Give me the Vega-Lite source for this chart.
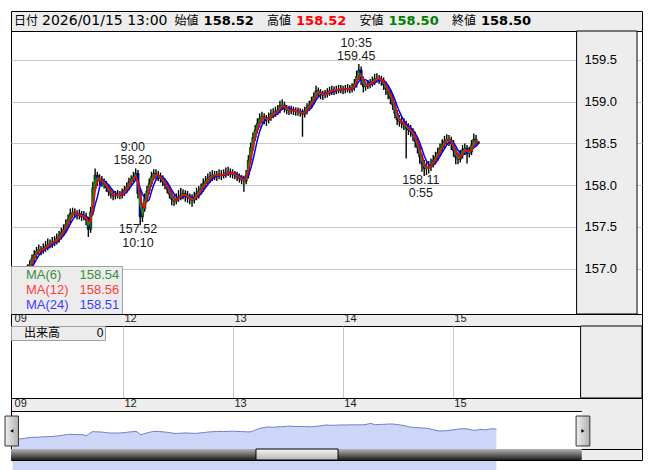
{
"$schema": "https://vega.github.io/schema/vega-lite/v6.json",
"background": "white",
"padding": {"left": 4, "top": 10, "right": 12, "bottom": 11},
"bounds": "flush",
"spacing": 0,
"config": {"view": {"stroke": "black", "strokeWidth": 1}, "font": "Liberation Sans", "axis": {"title": null}},
"resolve": {"scale": {"x": "independent", "y": "independent", "color": "independent"}, "axis": {"x": "independent", "y": "independent"}, "legend": {"color": "independent"}},
"datasets": {
"header": [
{"k": "日付", "v": "2026/01/15 13:00"},
{"k": "始値", "v": "158.52"},
{"k": "高値", "v": "158.52"},
{"k": "安値", "v": "158.50"},
{"k": "終値", "v": "158.50"}
],
"days": [{"t": 0, "d": "09"}, {"t": 24, "d": "12"}, {"t": 48, "d": "13"}, {"t": 72, "d": "14"}, {"t": 96, "d": "15"}],
"notes": [
{"t": 26, "p": 158.20, "time": "9:00", "val": "158.20", "side": "hi"},
{"t": 27.17, "p": 157.52, "time": "10:10", "val": "157.52", "side": "lo"},
{"t": 75.58, "p": 159.45, "time": "10:35", "val": "159.45", "side": "hi"},
{"t": 89.92, "p": 158.11, "time": "0:55", "val": "158.11", "side": "lo"}
],
"bars": [
{"t":0,"o":156.84,"h":156.90,"l":156.80,"c":156.86},
{"t":0.5,"o":156.86,"h":156.94,"l":156.82,"c":156.90},
{"t":1,"o":156.90,"h":156.97,"l":156.86,"c":156.93},
{"t":1.5,"o":156.93,"h":157.01,"l":156.89,"c":156.97},
{"t":2,"o":156.97,"h":157.05,"l":156.93,"c":157.00},
{"t":2.5,"o":157.00,"h":157.10,"l":156.96,"c":157.05},
{"t":3,"o":157.05,"h":157.17,"l":157.01,"c":157.12},
{"t":3.5,"o":157.12,"h":157.22,"l":157.07,"c":157.17},
{"t":4,"o":157.17,"h":157.26,"l":157.13,"c":157.21},
{"t":4.5,"o":157.21,"h":157.29,"l":157.17,"c":157.23},
{"t":5,"o":157.23,"h":157.27,"l":157.16,"c":157.22},
{"t":5.5,"o":157.22,"h":157.30,"l":157.18,"c":157.24},
{"t":6,"o":157.24,"h":157.33,"l":157.20,"c":157.27},
{"t":6.5,"o":157.27,"h":157.36,"l":157.22,"c":157.29},
{"t":7,"o":157.29,"h":157.35,"l":157.24,"c":157.30},
{"t":7.5,"o":157.30,"h":157.38,"l":157.25,"c":157.32},
{"t":8,"o":157.32,"h":157.39,"l":157.27,"c":157.33},
{"t":8.5,"o":157.33,"h":157.42,"l":157.29,"c":157.36},
{"t":9,"o":157.36,"h":157.45,"l":157.31,"c":157.39},
{"t":9.5,"o":157.39,"h":157.49,"l":157.35,"c":157.43},
{"t":10,"o":157.43,"h":157.53,"l":157.39,"c":157.47},
{"t":10.5,"o":157.47,"h":157.59,"l":157.43,"c":157.53},
{"t":11,"o":157.53,"h":157.65,"l":157.49,"c":157.59},
{"t":11.5,"o":157.59,"h":157.72,"l":157.55,"c":157.66},
{"t":12,"o":157.66,"h":157.73,"l":157.61,"c":157.67},
{"t":12.5,"o":157.67,"h":157.72,"l":157.61,"c":157.66},
{"t":13,"o":157.66,"h":157.70,"l":157.59,"c":157.64},
{"t":13.5,"o":157.64,"h":157.71,"l":157.59,"c":157.65},
{"t":14,"o":157.65,"h":157.69,"l":157.57,"c":157.62},
{"t":14.5,"o":157.62,"h":157.69,"l":157.58,"c":157.63},
{"t":15,"o":157.63,"h":157.67,"l":157.52,"c":157.58},
{"t":15.5,"o":157.58,"h":157.62,"l":157.38,"c":157.47},
{"t":16,"o":157.47,"h":157.74,"l":157.43,"c":157.68},
{"t":16.5,"o":157.68,"h":158.04,"l":157.64,"c":157.97},
{"t":17,"o":157.97,"h":158.20,"l":157.93,"c":158.12},
{"t":17.5,"o":158.12,"h":158.16,"l":157.99,"c":158.05},
{"t":18,"o":158.05,"h":158.13,"l":158.00,"c":158.07},
{"t":18.5,"o":158.07,"h":158.11,"l":157.98,"c":158.04},
{"t":19,"o":158.04,"h":158.08,"l":157.96,"c":158.01},
{"t":19.5,"o":158.01,"h":158.05,"l":157.92,"c":157.97},
{"t":20,"o":157.97,"h":158.01,"l":157.87,"c":157.92},
{"t":20.5,"o":157.92,"h":157.96,"l":157.84,"c":157.89},
{"t":21,"o":157.89,"h":157.93,"l":157.82,"c":157.87},
{"t":21.5,"o":157.87,"h":157.93,"l":157.83,"c":157.88},
{"t":22,"o":157.88,"h":157.94,"l":157.84,"c":157.89},
{"t":22.5,"o":157.89,"h":157.93,"l":157.83,"c":157.88},
{"t":23,"o":157.88,"h":157.96,"l":157.84,"c":157.91},
{"t":23.5,"o":157.91,"h":157.99,"l":157.87,"c":157.94},
{"t":24,"o":157.94,"h":158.03,"l":157.90,"c":157.98},
{"t":24.5,"o":157.98,"h":158.09,"l":157.94,"c":158.04},
{"t":25,"o":158.04,"h":158.12,"l":158.00,"c":158.07},
{"t":25.5,"o":158.07,"h":158.16,"l":158.03,"c":158.10},
{"t":26,"o":158.10,"h":158.20,"l":158.06,"c":158.14},
{"t":26.5,"o":158.14,"h":158.18,"l":157.84,"c":157.90},
{"t":27,"o":157.90,"h":157.95,"l":157.52,"c":157.62},
{"t":27.5,"o":157.62,"h":157.78,"l":157.56,"c":157.72},
{"t":28,"o":157.72,"h":157.90,"l":157.68,"c":157.84},
{"t":28.5,"o":157.84,"h":157.99,"l":157.80,"c":157.93},
{"t":29,"o":157.93,"h":158.08,"l":157.89,"c":158.02},
{"t":29.5,"o":158.02,"h":158.16,"l":157.98,"c":158.10},
{"t":30,"o":158.10,"h":158.19,"l":158.06,"c":158.14},
{"t":30.5,"o":158.14,"h":158.19,"l":158.07,"c":158.12},
{"t":31,"o":158.12,"h":158.17,"l":158.05,"c":158.10},
{"t":31.5,"o":158.10,"h":158.15,"l":158.03,"c":158.08},
{"t":32,"o":158.08,"h":158.12,"l":157.99,"c":158.04},
{"t":32.5,"o":158.04,"h":158.08,"l":157.95,"c":158.00},
{"t":33,"o":158.00,"h":158.04,"l":157.90,"c":157.95},
{"t":33.5,"o":157.95,"h":157.99,"l":157.84,"c":157.89},
{"t":34,"o":157.89,"h":157.93,"l":157.76,"c":157.83},
{"t":34.5,"o":157.83,"h":157.88,"l":157.75,"c":157.81},
{"t":35,"o":157.81,"h":157.90,"l":157.77,"c":157.84},
{"t":35.5,"o":157.84,"h":157.94,"l":157.80,"c":157.86},
{"t":36,"o":157.86,"h":157.97,"l":157.82,"c":157.88},
{"t":36.5,"o":157.88,"h":157.95,"l":157.83,"c":157.90},
{"t":37,"o":157.90,"h":157.94,"l":157.80,"c":157.87},
{"t":37.5,"o":157.87,"h":157.93,"l":157.79,"c":157.85},
{"t":38,"o":157.85,"h":157.90,"l":157.77,"c":157.84},
{"t":38.5,"o":157.84,"h":157.89,"l":157.74,"c":157.82},
{"t":39,"o":157.82,"h":157.92,"l":157.78,"c":157.86},
{"t":39.5,"o":157.86,"h":157.97,"l":157.82,"c":157.90},
{"t":40,"o":157.90,"h":157.99,"l":157.84,"c":157.93},
{"t":40.5,"o":157.93,"h":158.02,"l":157.89,"c":157.96},
{"t":41,"o":157.96,"h":158.08,"l":157.92,"c":158.02},
{"t":41.5,"o":158.02,"h":158.11,"l":157.97,"c":158.05},
{"t":42,"o":158.05,"h":158.14,"l":158.01,"c":158.08},
{"t":42.5,"o":158.08,"h":158.16,"l":158.03,"c":158.10},
{"t":43,"o":158.10,"h":158.18,"l":158.05,"c":158.12},
{"t":43.5,"o":158.12,"h":158.17,"l":158.06,"c":158.12},
{"t":44,"o":158.12,"h":158.17,"l":158.05,"c":158.11},
{"t":44.5,"o":158.11,"h":158.19,"l":158.07,"c":158.13},
{"t":45,"o":158.13,"h":158.18,"l":158.06,"c":158.12},
{"t":45.5,"o":158.12,"h":158.19,"l":158.08,"c":158.13},
{"t":46,"o":158.13,"h":158.21,"l":158.09,"c":158.15},
{"t":46.5,"o":158.15,"h":158.22,"l":158.11,"c":158.16},
{"t":47,"o":158.16,"h":158.20,"l":158.09,"c":158.14},
{"t":47.5,"o":158.14,"h":158.19,"l":158.08,"c":158.13},
{"t":48,"o":158.13,"h":158.17,"l":158.07,"c":158.12},
{"t":48.5,"o":158.12,"h":158.16,"l":158.05,"c":158.10},
{"t":49,"o":158.10,"h":158.14,"l":158.03,"c":158.08},
{"t":49.5,"o":158.08,"h":158.12,"l":158.01,"c":158.06},
{"t":50,"o":158.06,"h":158.11,"l":157.92,"c":158.05},
{"t":50.5,"o":158.05,"h":158.18,"l":158.01,"c":158.12},
{"t":51,"o":158.12,"h":158.36,"l":158.08,"c":158.30},
{"t":51.5,"o":158.30,"h":158.51,"l":158.26,"c":158.45},
{"t":52,"o":158.45,"h":158.63,"l":158.41,"c":158.57},
{"t":52.5,"o":158.57,"h":158.72,"l":158.53,"c":158.66},
{"t":53,"o":158.66,"h":158.80,"l":158.62,"c":158.74},
{"t":53.5,"o":158.74,"h":158.86,"l":158.69,"c":158.80},
{"t":54,"o":158.80,"h":158.88,"l":158.74,"c":158.82},
{"t":54.5,"o":158.82,"h":158.86,"l":158.73,"c":158.80},
{"t":55,"o":158.80,"h":158.84,"l":158.71,"c":158.78},
{"t":55.5,"o":158.78,"h":158.87,"l":158.74,"c":158.81},
{"t":56,"o":158.81,"h":158.91,"l":158.77,"c":158.85},
{"t":56.5,"o":158.85,"h":158.92,"l":158.80,"c":158.86},
{"t":57,"o":158.86,"h":158.94,"l":158.82,"c":158.88},
{"t":57.5,"o":158.88,"h":158.96,"l":158.84,"c":158.90},
{"t":58,"o":158.90,"h":159.01,"l":158.86,"c":158.95},
{"t":58.5,"o":158.95,"h":159.03,"l":158.90,"c":158.96},
{"t":59,"o":158.96,"h":159.00,"l":158.87,"c":158.92},
{"t":59.5,"o":158.92,"h":158.96,"l":158.85,"c":158.90},
{"t":60,"o":158.90,"h":158.95,"l":158.84,"c":158.89},
{"t":60.5,"o":158.89,"h":158.95,"l":158.85,"c":158.90},
{"t":61,"o":158.90,"h":158.94,"l":158.84,"c":158.89},
{"t":61.5,"o":158.89,"h":158.93,"l":158.83,"c":158.88},
{"t":62,"o":158.88,"h":158.93,"l":158.83,"c":158.88},
{"t":62.5,"o":158.88,"h":158.92,"l":158.82,"c":158.87},
{"t":63,"o":158.87,"h":158.91,"l":158.58,"c":158.85},
{"t":63.5,"o":158.85,"h":158.94,"l":158.81,"c":158.89},
{"t":64,"o":158.89,"h":158.98,"l":158.85,"c":158.93},
{"t":64.5,"o":158.93,"h":159.01,"l":158.89,"c":158.96},
{"t":65,"o":158.96,"h":159.06,"l":158.92,"c":159.01},
{"t":65.5,"o":159.01,"h":159.11,"l":158.97,"c":159.06},
{"t":66,"o":159.06,"h":159.19,"l":159.02,"c":159.13},
{"t":66.5,"o":159.13,"h":159.17,"l":159.06,"c":159.11},
{"t":67,"o":159.11,"h":159.15,"l":159.03,"c":159.09},
{"t":67.5,"o":159.09,"h":159.13,"l":159.02,"c":159.08},
{"t":68,"o":159.08,"h":159.14,"l":159.04,"c":159.09},
{"t":68.5,"o":159.09,"h":159.16,"l":159.05,"c":159.11},
{"t":69,"o":159.11,"h":159.18,"l":159.07,"c":159.13},
{"t":69.5,"o":159.13,"h":159.19,"l":159.08,"c":159.14},
{"t":70,"o":159.14,"h":159.18,"l":159.08,"c":159.13},
{"t":70.5,"o":159.13,"h":159.19,"l":159.09,"c":159.14},
{"t":71,"o":159.14,"h":159.20,"l":159.10,"c":159.15},
{"t":71.5,"o":159.15,"h":159.20,"l":159.10,"c":159.15},
{"t":72,"o":159.15,"h":159.19,"l":159.09,"c":159.14},
{"t":72.5,"o":159.14,"h":159.20,"l":159.10,"c":159.15},
{"t":73,"o":159.15,"h":159.21,"l":159.11,"c":159.16},
{"t":73.5,"o":159.16,"h":159.20,"l":159.10,"c":159.15},
{"t":74,"o":159.15,"h":159.22,"l":159.11,"c":159.17},
{"t":74.5,"o":159.17,"h":159.27,"l":159.13,"c":159.21},
{"t":75,"o":159.21,"h":159.37,"l":159.17,"c":159.30},
{"t":75.5,"o":159.30,"h":159.45,"l":159.26,"c":159.38},
{"t":76,"o":159.38,"h":159.42,"l":159.20,"c":159.26},
{"t":76.5,"o":159.26,"h":159.30,"l":159.11,"c":159.18},
{"t":77,"o":159.18,"h":159.24,"l":159.13,"c":159.19},
{"t":77.5,"o":159.19,"h":159.26,"l":159.15,"c":159.21},
{"t":78,"o":159.21,"h":159.27,"l":159.16,"c":159.22},
{"t":78.5,"o":159.22,"h":159.30,"l":159.18,"c":159.24},
{"t":79,"o":159.24,"h":159.33,"l":159.20,"c":159.27},
{"t":79.5,"o":159.27,"h":159.34,"l":159.23,"c":159.28},
{"t":80,"o":159.28,"h":159.32,"l":159.21,"c":159.27},
{"t":80.5,"o":159.27,"h":159.31,"l":159.19,"c":159.25},
{"t":81,"o":159.25,"h":159.29,"l":159.14,"c":159.20},
{"t":81.5,"o":159.20,"h":159.24,"l":159.08,"c":159.15},
{"t":82,"o":159.15,"h":159.19,"l":159.03,"c":159.10},
{"t":82.5,"o":159.10,"h":159.14,"l":158.97,"c":159.04},
{"t":83,"o":159.04,"h":159.08,"l":158.90,"c":158.96},
{"t":83.5,"o":158.96,"h":159.00,"l":158.80,"c":158.86},
{"t":84,"o":158.86,"h":158.90,"l":158.72,"c":158.78},
{"t":84.5,"o":158.78,"h":158.84,"l":158.70,"c":158.76},
{"t":85,"o":158.76,"h":158.82,"l":158.68,"c":158.74},
{"t":85.5,"o":158.74,"h":158.80,"l":158.66,"c":158.72},
{"t":86,"o":158.72,"h":158.77,"l":158.32,"c":158.68},
{"t":86.5,"o":158.68,"h":158.74,"l":158.60,"c":158.66},
{"t":87,"o":158.66,"h":158.72,"l":158.58,"c":158.64},
{"t":87.5,"o":158.64,"h":158.68,"l":158.53,"c":158.60},
{"t":88,"o":158.60,"h":158.64,"l":158.45,"c":158.52},
{"t":88.5,"o":158.52,"h":158.56,"l":158.38,"c":158.45},
{"t":89,"o":158.45,"h":158.49,"l":158.26,"c":158.34},
{"t":89.5,"o":158.34,"h":158.38,"l":158.16,"c":158.25},
{"t":90,"o":158.25,"h":158.30,"l":158.11,"c":158.20},
{"t":90.5,"o":158.20,"h":158.28,"l":158.12,"c":158.21},
{"t":91,"o":158.21,"h":158.29,"l":158.14,"c":158.22},
{"t":91.5,"o":158.22,"h":158.32,"l":158.17,"c":158.25},
{"t":92,"o":158.25,"h":158.36,"l":158.21,"c":158.30},
{"t":92.5,"o":158.30,"h":158.40,"l":158.25,"c":158.34},
{"t":93,"o":158.34,"h":158.45,"l":158.29,"c":158.39},
{"t":93.5,"o":158.39,"h":158.50,"l":158.35,"c":158.44},
{"t":94,"o":158.44,"h":158.55,"l":158.40,"c":158.49},
{"t":94.5,"o":158.49,"h":158.59,"l":158.44,"c":158.53},
{"t":95,"o":158.53,"h":158.61,"l":158.48,"c":158.55},
{"t":95.5,"o":158.55,"h":158.60,"l":158.47,"c":158.54},
{"t":96,"o":158.54,"h":158.58,"l":158.42,"c":158.50},
{"t":96.5,"o":158.50,"h":158.54,"l":158.34,"c":158.41},
{"t":97,"o":158.41,"h":158.45,"l":158.25,"c":158.33},
{"t":97.5,"o":158.33,"h":158.39,"l":158.25,"c":158.31},
{"t":98,"o":158.31,"h":158.42,"l":158.27,"c":158.36},
{"t":98.5,"o":158.36,"h":158.48,"l":158.32,"c":158.42},
{"t":99,"o":158.42,"h":158.50,"l":158.36,"c":158.44},
{"t":99.5,"o":158.44,"h":158.48,"l":158.26,"c":158.38},
{"t":100,"o":158.38,"h":158.46,"l":158.33,"c":158.40},
{"t":100.5,"o":158.40,"h":158.54,"l":158.36,"c":158.48},
{"t":101,"o":158.48,"h":158.62,"l":158.44,"c":158.55},
{"t":101.5,"o":158.55,"h":158.60,"l":158.47,"c":158.52},
{"t":102,"o":158.52,"h":158.53,"l":158.49,"c":158.50}
]
},
"vconcat": [
{
"width": 631, "height": 20,
"view": {"fill": "#ededed", "stroke": "black"},
"data": {"name": "header"},
"layer": [
{"transform": [{"filter": "datum.k == '日付'"}],
 "mark": {"type": "text", "align": "left", "baseline": "middle", "font": "Noto Sans CJK JP", "fontSize": 12, "x": 3, "color": "black"},
 "encoding": {"text": {"field": "k"}}},
{"transform": [{"filter": "datum.k == '日付'"}],
 "mark": {"type": "text", "align": "left", "baseline": "middle", "font": "DejaVu Sans", "fontSize": 14, "x": 3, "dx": 28, "color": "black"},
 "encoding": {"text": {"field": "v"}}},
{"transform": [{"filter": "datum.k != '日付'"}],
 "mark": {"type": "text", "align": "left", "baseline": "middle", "font": "Noto Sans CJK JP", "fontSize": 12, "color": "black"},
 "encoding": {"x": {"field": "k", "type": "nominal", "sort": null, "scale": {"type": "point", "padding": 0, "range": [163.6, 441]}, "axis": null}, "text": {"field": "k"}}},
{"transform": [{"filter": "datum.k != '日付'"}],
 "mark": {"type": "text", "align": "left", "baseline": "middle", "font": "DejaVu Sans", "fontWeight": "bold", "fontSize": 13, "dx": 29},
 "encoding": {"x": {"field": "k", "type": "nominal", "sort": null, "axis": null}, "text": {"field": "v"},
  "color": {"condition": [{"test": "datum.k == '高値'", "value": "#ff0000"}, {"test": "datum.k == '安値'", "value": "#008000"}], "value": "#000000"}}}
]
},
{
"width": 631, "height": 283,
"view": {"fill": "white", "stroke": "black"},
"resolve": {"axis": {"y": "independent"}},
"layer": [
{"data": {"values": [{}]},
 "mark": {"type": "rect", "fill": "#ededed", "stroke": "black", "strokeWidth": 1},
 "encoding": {
  "x": {"datum": 123.8, "type": "quantitative", "scale": {"domain": [-0.55, 137.2], "nice": false, "zero": false},
   "axis": {"grid": true, "gridColor": "#c8c8c8", "values": [24, 48, 72, 96], "labels": false, "ticks": false, "domain": false, "title": null, "minExtent": 0, "maxExtent": 0}},
  "x2": {"datum": 137.2},
  "y": {"datum": 159.846, "type": "quantitative", "scale": {"domain": [156.457, 159.846], "nice": false, "zero": false},
   "axis": {"orient": "left", "grid": true, "gridColor": "#c8c8c8", "values": [157, 157.5, 158, 158.5, 159, 159.5], "labels": false, "ticks": false, "domain": false, "title": null, "minExtent": 0, "maxExtent": 0}},
  "y2": {"datum": 156.457}
 }},
{"data": {"name": "bars"},
 "mark": {"type": "rule", "color": "black", "strokeWidth": 1.4},
 "encoding": {
  "x": {"field": "t", "type": "quantitative", "axis": null},
  "y": {"field": "l", "type": "quantitative",
   "axis": {"orient": "right", "offset": -61, "grid": false, "domain": false, "ticks": false, "labelPadding": 3, "labelFont": "Liberation Sans", "labelFontSize": 13, "labelColor": "#000000", "values": [157, 157.5, 158, 158.5, 159, 159.5], "format": ".1f", "title": null, "zindex": 1, "minExtent": 0, "maxExtent": 0}},
  "y2": {"field": "h"}
 }},
{"data": {"name": "bars"},
 "mark": {"type": "bar", "width": 2.4, "stroke": "#000000", "strokeWidth": 0.5},
 "encoding": {
  "x": {"field": "t", "type": "quantitative", "axis": null},
  "y": {"field": "o", "type": "quantitative", "axis": null},
  "y2": {"field": "c"},
  "color": {"condition": {"test": "datum.c >= datum.o", "value": "#006e00"}, "value": "#0000cd"}
 }},
{"data": {"name": "bars"},
 "transform": [
  {"window": [{"op": "mean", "field": "c", "as": "ma6"}], "frame": [-1, 0], "sort": [{"field": "t"}]},
  {"window": [{"op": "mean", "field": "c", "as": "ma12"}], "frame": [-2, 0], "sort": [{"field": "t"}]},
  {"window": [{"op": "mean", "field": "c", "as": "ma24"}], "frame": [-4, 0], "sort": [{"field": "t"}]},
  {"fold": ["ma24", "ma6", "ma12"], "as": ["ma", "v"]}
 ],
 "mark": {"type": "line", "strokeWidth": 1.5},
 "encoding": {
  "x": {"field": "t", "type": "quantitative", "axis": null},
  "y": {"field": "v", "type": "quantitative", "axis": null},
  "color": {"field": "ma", "type": "nominal", "scale": {"domain": ["ma6", "ma12", "ma24"], "range": ["#1e8c1e", "#ff0000", "#0000ff"]},
   "legend": {"title": null, "orient": "bottom-left", "offset": 0, "padding": 2, "fillColor": "#ececec", "strokeColor": "#a0a0a0",
    "symbolSize": 0, "symbolOpacity": 0, "symbolStrokeWidth": 0, "labelOffset": 0, "labelFont": "Liberation Sans", "labelFontSize": 13, "labelLimit": 300, "rowPadding": 1,
    "labelExpr": "datum.value == 'ma6' ? 'MA(6)\u00a0\u00a0\u00a0\u00a0\u00a0158.54' : datum.value == 'ma12' ? 'MA(12)\u00a0\u00a0\u00a0158.56' : 'MA(24)\u00a0\u00a0\u00a0158.51'",
    "encode": {"labels": {"update": {"fill": {"signal": "datum.value == 'ma6' ? '#3c8c3c' : datum.value == 'ma12' ? '#ff3c3c' : '#3c3cff'"}}}}}}
 }},
{"data": {"name": "notes"},
 "transform": [{"filter": "datum.side == 'hi'"}],
 "mark": {"type": "text", "align": "center", "baseline": "bottom", "font": "Liberation Sans", "fontSize": 12.5, "color": "#1a1a1a", "dx": -3, "dy": -1},
 "encoding": {"x": {"field": "t", "type": "quantitative", "axis": null}, "y": {"field": "p", "type": "quantitative", "axis": null}, "text": {"field": "val"}}},
{"data": {"name": "notes"},
 "transform": [{"filter": "datum.side == 'hi'"}],
 "mark": {"type": "text", "align": "center", "baseline": "bottom", "font": "Liberation Sans", "fontSize": 12.5, "color": "#1a1a1a", "dx": -3, "dy": -14.5},
 "encoding": {"x": {"field": "t", "type": "quantitative", "axis": null}, "y": {"field": "p", "type": "quantitative", "axis": null}, "text": {"field": "time"}}},
{"data": {"name": "notes"},
 "transform": [{"filter": "datum.side == 'lo'"}],
 "mark": {"type": "text", "align": "center", "baseline": "top", "font": "Liberation Sans", "fontSize": 12.5, "color": "#1a1a1a", "dx": -3, "dy": -2},
 "encoding": {"x": {"field": "t", "type": "quantitative", "axis": null}, "y": {"field": "p", "type": "quantitative", "axis": null}, "text": {"field": "val"}}},
{"data": {"name": "notes"},
 "transform": [{"filter": "datum.side == 'lo'"}],
 "mark": {"type": "text", "align": "center", "baseline": "top", "font": "Liberation Sans", "fontSize": 12.5, "color": "#1a1a1a", "dx": -3, "dy": 11.5},
 "encoding": {"x": {"field": "t", "type": "quantitative", "axis": null}, "y": {"field": "p", "type": "quantitative", "axis": null}, "text": {"field": "time"}}}
]
},
{
"width": 631, "height": 12,
"view": {"fill": "#ededed", "stroke": "black"},
"data": {"name": "days"},
"mark": {"type": "text", "align": "left", "baseline": "middle", "dx": 1, "dy": -1, "font": "Liberation Sans", "fontSize": 11, "color": "#222222"},
"encoding": {"x": {"field": "t", "type": "quantitative", "scale": {"domain": [-0.55, 137.2], "nice": false, "zero": false}, "axis": null}, "text": {"field": "d"}}
},
{
"width": 631, "height": 72,
"view": {"fill": "white", "stroke": "black"},
"layer": [
{"data": {"values": [{}]},
 "mark": {"type": "rect", "fill": "#ededed", "stroke": "black", "strokeWidth": 1},
 "encoding": {
  "x": {"datum": 123.8, "type": "quantitative", "scale": {"domain": [-0.55, 137.2], "nice": false, "zero": false},
   "axis": {"grid": true, "gridColor": "#c8c8c8", "values": [24, 48, 72, 96], "labels": false, "ticks": false, "domain": false, "title": null, "minExtent": 0, "maxExtent": 0}},
  "x2": {"datum": 137.2}
 }},
{"data": {"values": [{"s": "出来高", "vol": 0}]},
 "mark": {"type": "point", "opacity": 0},
 "encoding": {
  "color": {"field": "s", "type": "nominal", "scale": {"range": ["#4b4bc8"]},
   "legend": {"title": null, "orient": "top-left", "offset": 0, "padding": 1, "fillColor": "#ececec", "strokeColor": "#a0a0a0",
    "symbolSize": 0, "symbolOpacity": 0, "symbolStrokeWidth": 0, "labelOffset": 0, "labelFont": "Liberation Sans, Noto Sans CJK JP", "labelFontSize": 12, "labelLimit": 300,
    "labelExpr": "'出来高\u00a0\u00a0\u00a0\u00a0\u00a0\u00a0\u00a0\u00a0\u00a0\u00a0\u00a00'",
    "encode": {"labels": {"update": {"fill": {"value": "#4b4bc8"}}}}}}
 }}
]
},
{
"width": 631, "height": 13,
"view": {"fill": "#ededed", "stroke": "black"},
"data": {"name": "days"},
"mark": {"type": "text", "align": "left", "baseline": "middle", "dx": 1, "dy": -1, "font": "Liberation Sans", "fontSize": 11, "color": "#222222"},
"encoding": {"x": {"field": "t", "type": "quantitative", "scale": {"domain": [-0.55, 137.2], "nice": false, "zero": false}, "axis": null}, "text": {"field": "d"}}
},
{
"width": 631, "height": 38,
"view": {"fill": "white", "stroke": "black"},
"layer": [
{"data": {"values": [{}]},
 "mark": {"type": "rect", "fill": "#ededed"},
 "encoding": {
  "x": {"datum": 120, "type": "quantitative", "scale": {"domain": [-0.36, 132.7], "nice": false, "zero": false}, "axis": null},
  "x2": {"datum": 132.7}
 }},
{"data": {"name": "bars"},
 "mark": {"type": "area", "color": "#b9c5f5", "line": {"color": "#6f7bc9", "strokeWidth": 1}},
 "encoding": {
  "x": {"field": "t", "type": "quantitative",
   "axis": {"orient": "bottom", "offset": -12, "grid": true, "gridColor": {"condition": {"test": "datum.value == 0", "value": "transparent"}, "value": "white"}, "gridWidth": 2, "values": [0, 24, 48, 72, 96],
    "domain": false, "ticks": false, "labelAlign": "left", "labelBaseline": "top", "labelPadding": 0, "labelOffset": 2, "labelFontSize": 10, "labelColor": "#222222", "labelFlush": false, "labelOverlap": false,
    "labelExpr": "datum.value == 0 ? '9' : datum.value == 24 ? '12' : datum.value == 48 ? '13' : datum.value == 72 ? '14' : '15'", "zindex": 1, "title": null, "minExtent": 0, "maxExtent": 0}},
  "y": {"field": "c", "type": "quantitative", "scale": {"domain": [155.4, 161.3], "nice": false, "zero": false}, "axis": null}
 }},
{"data": {"values": [{}]},
 "mark": {"type": "rect", "stroke": "#333333", "strokeWidth": 1, "fill": {"gradient": "linear", "x1": 0, "y1": 0, "x2": 1, "y2": 0, "stops": [{"offset": 0, "color": "#f0f0f0"}, {"offset": 1, "color": "#b0b0b0"}]}},
 "encoding": {"x": {"datum": -1.62, "type": "quantitative"}, "x2": {"datum": 1.22}, "y": {"datum": 160.52, "type": "quantitative"}, "y2": {"datum": 155.87}}},
{"data": {"values": [{}]},
 "mark": {"type": "rect", "stroke": "#333333", "strokeWidth": 1, "fill": {"gradient": "linear", "x1": 0, "y1": 0, "x2": 1, "y2": 0, "stops": [{"offset": 0, "color": "#f0f0f0"}, {"offset": 1, "color": "#b0b0b0"}]}},
 "encoding": {"x": {"datum": 118.8, "type": "quantitative"}, "x2": {"datum": 121.7}, "y": {"datum": 160.52, "type": "quantitative"}, "y2": {"datum": 155.87}}},
{"data": {"values": [{}]},
 "mark": {"type": "point", "shape": "triangle-left", "filled": true, "color": "black", "size": 14, "opacity": 1},
 "encoding": {"x": {"datum": -0.2, "type": "quantitative"}, "y": {"datum": 158.2, "type": "quantitative"}}},
{"data": {"values": [{}]},
 "mark": {"type": "point", "shape": "triangle-right", "filled": true, "color": "black", "size": 14, "opacity": 1},
 "encoding": {"x": {"datum": 120.25, "type": "quantitative"}, "y": {"datum": 158.2, "type": "quantitative"}}}
]
},
{
"width": 631, "height": 11,
"view": {"fill": "#ededed", "stroke": "black"},
"layer": [
{"data": {"values": [{}]},
 "mark": {"type": "rect", "fill": {"gradient": "linear", "x1": 0, "y1": 0, "x2": 0, "y2": 1, "stops": [{"offset": 0, "color": "#b4b4b4"}, {"offset": 0.5, "color": "#6a6a6a"}, {"offset": 1, "color": "#1e1e1e"}]}},
 "encoding": {
  "x": {"datum": -0.36, "type": "quantitative", "scale": {"domain": [-0.36, 132.7], "nice": false, "zero": false}, "axis": null},
  "x2": {"datum": 120}
 }},
{"data": {"values": [{}]},
 "mark": {"type": "rect", "stroke": "black", "strokeWidth": 1, "fill": {"gradient": "linear", "x1": 0, "y1": 0, "x2": 0, "y2": 1, "stops": [{"offset": 0, "color": "#f6f6f6"}, {"offset": 1, "color": "#b4b4b4"}]}},
 "encoding": {"x": {"datum": 51.3, "type": "quantitative"}, "x2": {"datum": 68.6}}}
]
}
]
}
